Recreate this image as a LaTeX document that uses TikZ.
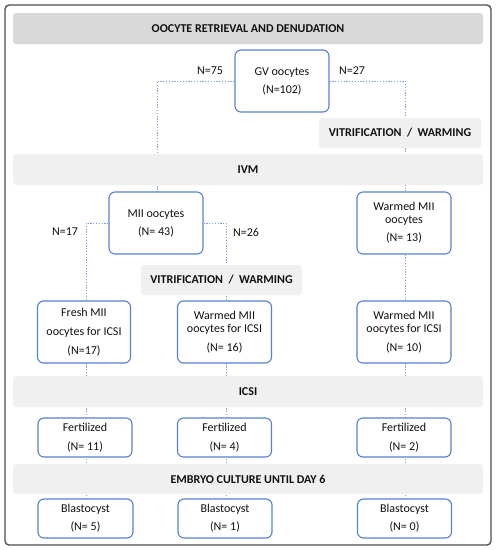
\documentclass[tikz,border=0pt]{standalone}
\usepackage{fontspec}
\setmainfont{Carlito}
\usetikzlibrary{backgrounds}
\definecolor{boxblue}{HTML}{5580D0}
\definecolor{dotblue}{HTML}{7F9FE0}
\definecolor{bandgray}{HTML}{D9D9D9}
\definecolor{bandlight}{HTML}{F0F0F0}
\definecolor{txt}{HTML}{111111}
\begin{document}
\begin{tikzpicture}[x=1pt,y=-1pt,
  stagebox/.style={draw=boxblue,line width=1.1pt,fill=white,rounded corners=6pt,
    minimum width=94pt,inner sep=0pt,align=center,text=txt,
    font=\fontsize{12}{13}\selectfont},
  tallbox/.style={stagebox,minimum height=62pt},
  shortbox/.style={stagebox,minimum height=39pt},
  band/.style={fill=bandlight,rounded corners=3pt,minimum height=31pt,inner sep=0pt,
    text=txt,font=\fontsize{12}{13}\selectfont\bfseries},
  conn/.style={dotblue,line width=0.7pt,dash pattern=on 1.3pt off 1.5pt},
  nlab/.style={text=txt,font=\fontsize{12}{13}\selectfont,inner sep=0pt}]
\useasboundingbox (0,0) rectangle (496,550);
\draw[draw=black!70,line width=1.3pt,rounded corners=4pt] (5,5) rectangle (491,545);

% bands
\node[band,fill=bandgray,minimum width=470pt] (retr) at (248,28.5) {OOCYTE RETRIEVAL AND DENUDATION};
\node[band,minimum width=162pt,minimum height=30pt] (vit1) at (400,133) {VITRIFICATION\ \ /\ \ WARMING};
\node[band,minimum width=470pt] (ivm) at (248,169.5) {IVM};
\node[band,minimum width=161pt,minimum height=30pt] (vit2) at (221.5,280) {VITRIFICATION\ \ /\ \ WARMING};
\node[band,minimum width=470pt] (icsi) at (248,391.5) {ICSI};
\node[band,minimum width=470pt,minimum height=30pt] (emb) at (248,479) {EMBRYO CULTURE UNTIL DAY 6};

% boxes
\node[tallbox] (gv) at (282,81) {GV oocytes\\[5pt](N=102)};
\node[tallbox] (mii) at (156,223) {MII oocytes\\[5pt](N= 43)};
\node[tallbox] (wmii) at (404,223) {Warmed MII\\oocytes\\[5pt](N= 13)};
\node[tallbox,minimum width=93pt] (fresh) at (84,332) {Fresh MII\\[6pt]oocytes for ICSI\\[6pt](N=17)};
\node[tallbox] (wicsi) at (224.5,332) {Warmed MII\\oocytes for ICSI\\[6pt](N= 16)};
\node[tallbox] (wicsib) at (404,332) {Warmed MII\\oocytes for ICSI\\[6pt](N= 10)};
\node[shortbox] (f1) at (85,437.5) {Fertilized\\[6pt](N= 11)};
\node[shortbox] (f2) at (224.5,437.5) {Fertilized\\[6pt](N= 4)};
\node[shortbox] (f3) at (404,437.5) {Fertilized\\[6pt](N= 2)};
\node[shortbox,minimum width=95pt] (b1) at (85.5,518.5) {Blastocyst\\[5pt](N= 5)};
\node[shortbox] (b2) at (225,518.5) {Blastocyst\\[5pt](N= 1)};
\node[shortbox] (b3) at (404.5,518.5) {Blastocyst\\[5pt](N= 0)};

% labels
\node[nlab] (n75) at (210,71) {N=75};
\node[nlab] (n27) at (352,71) {N=27};
\node[nlab] (n17) at (65,232) {N=17};
\node[nlab] (n26) at (246,232) {N=26};

\coordinate (colL) at (86,0);
\coordinate (colM) at (226,0);
\coordinate (colA) at (157,0);
\coordinate (colR) at (405,0);

\begin{scope}[on background layer]
\draw[conn] (gv.west) -| (mii.north -| colA);
\draw[conn] (gv.east) -| (wmii.north -| colR);
\draw[conn] (mii.west) -| (fresh.north -| colL);
\draw[conn] (mii.east) -| (wicsi.north -| colM);
\draw[conn] (wmii.south -| colR) -- (wicsib.north -| colR);
\draw[conn] (fresh.south -| colL) -- (b1.north -| colL);
\draw[conn] (wicsi.south -| colM) -- (b2.north -| colM);
\draw[conn] (wicsib.south -| colR) -- (b3.north -| colR);
\end{scope}
\end{tikzpicture}
\end{document}
